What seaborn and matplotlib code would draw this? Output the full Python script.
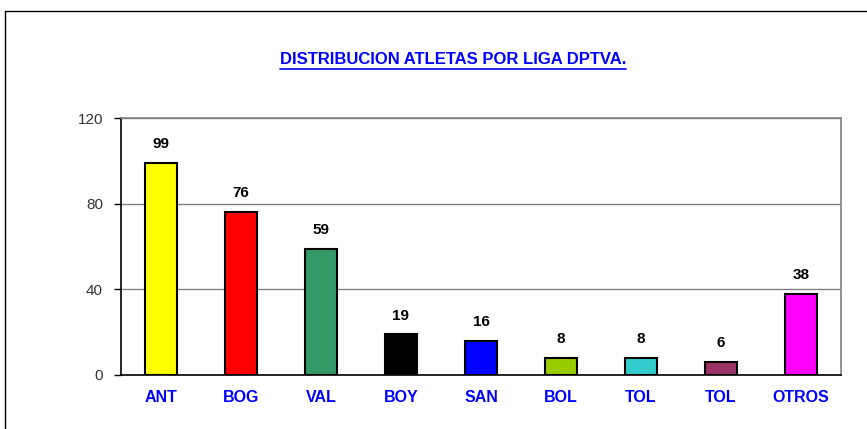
import matplotlib
matplotlib.use('Agg')
import matplotlib.pyplot as plt
from matplotlib.lines import Line2D
import seaborn as sns
import pandas as pd

# datos del grafico
ligas = ['ANT', 'BOG', 'VAL', 'BOY', 'SAN', 'BOL', 'TOL', 'TOL ', 'OTROS']
atletas = [99, 76, 59, 19, 16, 8, 8, 6, 38]
colores = ['#FFFF00', '#FF0000', '#339966', '#000000', '#0000FF',
           '#99CC00', '#33CCCC', '#993366', '#FF00FF']
y_ticks = [0, 40, 80, 120]

df = pd.DataFrame({'liga': ligas, 'atletas': atletas})

sns.set_style('white')
plt.rcParams['font.family'] = ['Liberation Sans', 'DejaVu Sans']

fig = plt.figure(figsize=(8.67, 4.29), dpi=100)
ax = fig.add_axes([121 / 867, 1 - 375 / 429, 720 / 867, 257 / 429])

sns.barplot(data=df, x='liga', y='atletas', hue='liga', palette=colores,
            legend=False, width=0.4, edgecolor='black', linewidth=1.5,
            saturation=1, ax=ax, zorder=3)

ax.set_ylim(0, 120)
ax.set_xlim(-0.5, len(ligas) - 0.5)
ax.set_yticks(y_ticks)
ax.set_yticklabels([str(t) for t in y_ticks], color='#333333', fontsize=11)
ax.yaxis.grid(True, color='#808080', linewidth=1, zorder=0)
ax.set_xlabel('')
ax.set_ylabel('')

# etiquetas eje x
ax.set_xticks(range(len(ligas)))
ax.set_xticklabels([l.strip() for l in ligas], color='#0000FF',
                   fontsize=11.5, fontweight='bold')
ax.tick_params(axis='x', length=0, pad=11)
ax.set_xticks([i - 0.5 for i in range(len(ligas) + 1)], minor=True)
ax.tick_params(axis='x', which='minor', length=5, width=1, color='black', direction='out')
ax.tick_params(axis='y', length=5, width=1, color='black', direction='out', left=True, pad=8)

for side in ['top', 'right']:
    ax.spines[side].set_color('#808080')
    ax.spines[side].set_linewidth(1.2)
for side in ['left', 'bottom']:
    ax.spines[side].set_color('black')
    ax.spines[side].set_linewidth(1.2)

# valores sobre las barras
for i, v in enumerate(atletas):
    ax.text(i, v + 5.5, str(v), ha='center', va='bottom',
            fontsize=11, fontweight='bold', color='black')

# titulo subrayado
t = fig.text(453 / 867, 1 - 60 / 429, 'DISTRIBUCION ATLETAS POR LIGA DPTVA.',
             ha='center', va='center', color='#0000FF', fontsize=12, fontweight='bold')
fig.canvas.draw()
bb = t.get_window_extent()
y_line = (bb.y0 - 1) / fig.bbox.height
fig.add_artist(Line2D([bb.x0 / fig.bbox.width, bb.x1 / fig.bbox.width], [y_line, y_line],
                      transform=fig.transFigure, color='#0000FF', linewidth=1.2))

# marco exterior
fig.add_artist(Line2D([5 / 867, 1], [1 - 11 / 429, 1 - 11 / 429],
                      transform=fig.transFigure, color='black', linewidth=1))
fig.add_artist(Line2D([5 / 867, 5 / 867], [0, 1 - 11 / 429],
                      transform=fig.transFigure, color='black', linewidth=1))

fig.savefig('out.png', dpi=100)
plt.close()
